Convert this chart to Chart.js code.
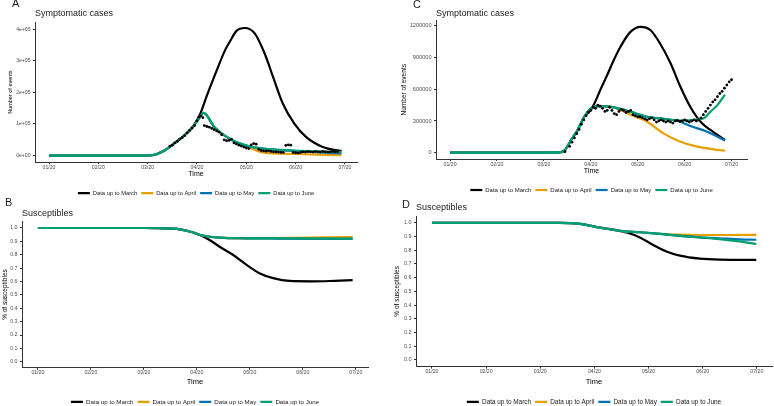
<!DOCTYPE html>
<html>
<head>
<meta charset="utf-8">
<script src="https://cdn.jsdelivr.net/npm/chart.js@4.4.1/dist/chart.umd.min.js"></script>
<style>
  body { margin: 0; background: #fff; }
  #fig { position: relative; width: 774px; height: 406px; overflow: hidden; background: #fff; }
  #fig canvas { position: absolute; }
  .tag { position: absolute; font: 11px 'Liberation Sans', Arial, sans-serif; color: #1a1a1a; }
</style>
</head>
<body>
<div id="fig">
  <canvas id="chartA" width="386" height="206" style="left:0;top:0"></canvas>
  <canvas id="chartC" width="387" height="203" style="left:387px;top:0"></canvas>
  <canvas id="chartB" width="386" height="219" style="left:0;top:196px"></canvas>
  <canvas id="chartD" width="387" height="219" style="left:387px;top:196px"></canvas>
  <div class="tag" style="left:12px;top:-3px">A</div>
  <div class="tag" style="left:5px;top:196px">B</div>
  <div class="tag" style="left:413px;top:-2px">C</div>
  <div class="tag" style="left:402px;top:198px">D</div>
</div>
<script>
// --- shared axis labels / legend ---
const monthVals = [0, 1, 2, 3, 4, 5, 6];
const monthLabels = ['01/20', '02/20', '03/20', '04/20', '05/20', '06/20', '07/20'];
const seriesNames = ['Data up to March', 'Data up to April', 'Data up to May', 'Data up to June'];
const seriesColors = ['#000000', '#E69F00', '#0072B2', '#009E73'];

// --- A: symptomatic cases (month, cases) ---
const aYTicks = [0, 100000, 200000, 300000, 400000];
const aYLabels = ['0e+00', '1e+05', '2e+05', '3e+05', '4e+05'];
const aMarch = [[0, 0], [1, 0], [1.8, 0], [2.08, 1000], [2.35, 17000], [2.55, 40000], [2.73, 62000], [2.93, 95000], [3.06, 130000], [3.2, 190000], [3.4, 270000], [3.57, 334000], [3.67, 362000], [3.8, 395000], [3.97, 404000], [4.17, 387000], [4.37, 324000], [4.54, 250000], [4.74, 165000], [4.97, 102000], [5.21, 59000], [5.55, 27000], [5.93, 14000]];
const aApril = [[0, 0], [1, 0], [1.8, 0], [2.08, 1000], [2.35, 17000], [2.55, 40000], [2.73, 62000], [2.93, 93000], [3.06, 122000], [3.13, 135000], [3.36, 89000], [3.7, 50000], [4.04, 27000], [4.3, 11000], [4.99, 5000], [5.93, 1000]];
const aMay = [[0, 0], [1, 0], [1.8, 0], [2.08, 1000], [2.35, 17000], [2.55, 40000], [2.73, 62000], [2.93, 93000], [3.06, 122000], [3.13, 135000], [3.36, 89000], [3.7, 50000], [4.04, 30000], [4.3, 23000], [4.6, 18000], [4.99, 14000], [5.5, 10000], [5.93, 7000]];
const aJune = [[0, 0], [1, 0], [1.8, 0], [2.08, 1000], [2.35, 17000], [2.55, 40000], [2.73, 62000], [2.93, 93000], [3.06, 122000], [3.13, 135000], [3.36, 89000], [3.7, 50000], [4.04, 30000], [4.3, 23000], [4.99, 16000], [5.5, 13000], [5.93, 11000]];
const aObserved = [[2.45, 30000], [2.5, 33000], [2.55, 40000], [2.6, 45000], [2.65, 52000], [2.7, 57000], [2.75, 63000], [2.8, 72000], [2.85, 80000], [2.9, 87000], [2.95, 95000], [3.0, 110000], [3.04, 122000], [3.08, 126000], [3.12, 120000], [3.15, 95000], [3.2, 92000], [3.25, 90000], [3.3, 86000], [3.35, 82000], [3.4, 78000], [3.45, 74000], [3.5, 66000], [3.55, 50000], [3.6, 47000], [3.65, 48000], [3.7, 52000], [3.75, 40000], [3.8, 37000], [3.85, 33000], [3.9, 30000], [3.95, 27000], [4.0, 24000], [4.05, 22000], [4.1, 34000], [4.15, 38000], [4.2, 36000], [4.25, 20000], [4.3, 16000], [4.35, 15000], [4.4, 14000], [4.45, 15000], [4.5, 13000], [4.55, 12000], [4.6, 12000], [4.65, 11000], [4.7, 10000], [4.75, 10000], [4.8, 32000], [4.85, 34000], [4.9, 33000], [4.95, 10000], [5.0, 9000], [5.05, 8000], [5.1, 10000], [5.15, 12000], [5.2, 11000], [5.25, 13000], [5.3, 12000], [5.35, 11000], [5.4, 13000], [5.45, 12000], [5.5, 11000], [5.55, 13000], [5.6, 12000], [5.65, 11000], [5.7, 12000], [5.75, 13000], [5.8, 12000], [5.85, 12000]];

// --- C: symptomatic cases, second setting ---
const cYTicks = [0, 300000, 600000, 900000, 1200000];
const cYLabels = ['0', '300000', '600000', '900000', '1200000'];
const cMarch = [[0, 0], [1, 0], [2, 0], [2.3, 3000], [2.44, 20000], [2.58, 120000], [2.72, 215000], [2.86, 340000], [3.0, 404000], [3.06, 450000], [3.2, 590000], [3.35, 734000], [3.49, 876000], [3.63, 1000000], [3.84, 1140000], [4.06, 1190000], [4.27, 1160000], [4.48, 1030000], [4.7, 845000], [4.91, 624000], [5.12, 435000], [5.34, 293000], [5.55, 215000], [5.86, 120000]];
const cApril = [[0, 0], [1, 0], [2, 0], [2.3, 3000], [2.44, 20000], [2.58, 120000], [2.72, 215000], [2.86, 340000], [3.0, 420000], [3.2, 441000], [3.49, 429000], [3.86, 356000], [4.2, 293000], [4.55, 183000], [4.91, 104000], [5.27, 57000], [5.62, 32000], [5.86, 19000]];
const cMay = [[0, 0], [1, 0], [2, 0], [2.3, 3000], [2.44, 20000], [2.58, 120000], [2.72, 215000], [2.86, 340000], [3.0, 420000], [3.2, 441000], [3.49, 429000], [3.84, 388000], [4.2, 340000], [4.55, 320000], [4.84, 302000], [5.12, 252000], [5.48, 199000], [5.86, 115000]];
const cJune = [[0, 0], [1, 0], [2, 0], [2.3, 3000], [2.44, 20000], [2.58, 120000], [2.72, 215000], [2.86, 340000], [3.0, 420000], [3.2, 441000], [3.49, 429000], [3.84, 388000], [4.2, 340000], [4.55, 320000], [4.91, 303000], [5.27, 315000], [5.41, 325000], [5.55, 388000], [5.7, 450000], [5.86, 550000]];
const cObserved = [[2.45, 10000], [2.55, 60000], [2.6, 100000], [2.65, 140000], [2.7, 180000], [2.75, 220000], [2.8, 270000], [2.85, 310000], [2.9, 350000], [2.95, 380000], [3.0, 400000], [3.05, 430000], [3.1, 420000], [3.15, 450000], [3.2, 440000], [3.25, 420000], [3.3, 390000], [3.35, 400000], [3.4, 430000], [3.45, 400000], [3.5, 370000], [3.55, 360000], [3.6, 390000], [3.65, 410000], [3.7, 400000], [3.75, 380000], [3.8, 390000], [3.85, 400000], [3.9, 360000], [3.95, 350000], [4.0, 340000], [4.05, 340000], [4.1, 330000], [4.15, 320000], [4.2, 310000], [4.25, 320000], [4.3, 330000], [4.35, 310000], [4.4, 290000], [4.45, 300000], [4.5, 310000], [4.55, 300000], [4.6, 290000], [4.65, 300000], [4.7, 290000], [4.75, 280000], [4.8, 300000], [4.85, 305000], [4.9, 295000], [4.95, 300000], [5.0, 310000], [5.05, 300000], [5.1, 290000], [5.15, 300000], [5.2, 310000], [5.25, 300000], [5.3, 310000], [5.35, 330000], [5.4, 360000], [5.45, 390000], [5.5, 420000], [5.55, 450000], [5.6, 480000], [5.65, 500000], [5.7, 530000], [5.75, 560000], [5.8, 580000], [5.85, 610000], [5.9, 640000], [5.95, 670000], [6.0, 690000]];

// --- B and D: share of susceptibles ---
const fracTicks = [0, 0.1, 0.2, 0.3, 0.4, 0.5, 0.6, 0.7, 0.8, 0.9, 1.0];
const fracLabels = ['0.0', '0.1', '0.2', '0.3', '0.4', '0.5', '0.6', '0.7', '0.8', '0.9', '1.0'];
const bMarch = [[0, 1], [1, 1], [2, 1], [2.3, 0.998], [2.68, 0.99], [2.9, 0.97], [3.06, 0.948], [3.24, 0.91], [3.43, 0.86], [3.68, 0.8], [3.94, 0.724], [4.19, 0.66], [4.44, 0.625], [4.75, 0.604], [5.19, 0.601], [5.6, 0.605], [5.94, 0.61]];
const bApril = [[0, 1], [1, 1], [2, 1], [2.3, 0.998], [2.68, 0.99], [2.9, 0.97], [3.06, 0.948], [3.43, 0.928], [3.94, 0.923], [4.5, 0.925], [5.94, 0.932]];
const bMay = [[0, 1], [1, 1], [2, 1], [2.3, 0.998], [2.68, 0.99], [2.9, 0.97], [3.06, 0.948], [3.43, 0.928], [3.94, 0.923], [4.5, 0.921], [5.94, 0.918]];
const bJune = [[0, 1], [1, 1], [2, 1], [2.3, 0.998], [2.68, 0.99], [2.9, 0.97], [3.06, 0.948], [3.43, 0.928], [3.94, 0.923], [4.5, 0.922], [5.94, 0.92]];
const dMarch = [[0, 1], [1, 1], [2, 1], [2.36, 1.0], [2.73, 0.993], [3.1, 0.966], [3.4, 0.948], [3.6, 0.93], [3.84, 0.894], [4.08, 0.84], [4.33, 0.792], [4.58, 0.761], [4.95, 0.739], [5.31, 0.732], [5.99, 0.73]];
const dApril = [[0, 1], [1, 1], [2, 1], [2.36, 1.0], [2.73, 0.993], [3.1, 0.966], [3.47, 0.942], [3.84, 0.932], [4.21, 0.92], [4.58, 0.914], [4.95, 0.912], [5.5, 0.912], [5.99, 0.913]];
const dMay = [[0, 1], [1, 1], [2, 1], [2.36, 1.0], [2.73, 0.993], [3.1, 0.966], [3.47, 0.942], [3.84, 0.932], [4.21, 0.92], [4.58, 0.906], [4.95, 0.895], [5.31, 0.888], [5.68, 0.88], [5.99, 0.877]];
const dJune = [[0, 1], [1, 1], [2, 1], [2.36, 1.0], [2.73, 0.993], [3.1, 0.966], [3.47, 0.942], [3.84, 0.932], [4.21, 0.92], [4.58, 0.906], [4.95, 0.894], [5.31, 0.882], [5.68, 0.865], [5.99, 0.846]];

Chart.defaults.font.family = "'Liberation Sans', Arial, sans-serif";

const toXY = pts => pts.map(p => ({ x: p[0], y: p[1] }));

function makePanel(id, p) {
    let datasets = p.series.map((s, i) => ({
        label: seriesNames[i],
        data: toXY(s),
        borderColor: seriesColors[i],
        backgroundColor: seriesColors[i],
        borderWidth: 2.2,
        pointRadius: 0,
        cubicInterpolationMode: 'monotone',
        order: 4 - i
    }));
    if (p.observed) {
        datasets.push({
            label: 'observed',
            data: toXY(p.observed),
            showLine: false,
            pointRadius: 1.4,
            pointBorderWidth: 0,
            pointBackgroundColor: '#000',
            order: 0
        });
    }

    return new Chart(document.getElementById(id), {
        type: 'line',
        data: { datasets: datasets },
        options: {
            responsive: false,
            animation: false,
            events: [],
            layout: { padding: { left: 0, right: p.padRight, top: 0, bottom: 0 } },
            scales: {
                x: {
                    type: 'linear',
                    min: p.xMin,
                    max: p.xMax,
                    afterBuildTicks: s => { s.ticks = monthVals.map(v => ({ value: v })); },
                    afterFit: s => { s.height = p.xHeight; },
                    ticks: {
                        callback: (v, i) => monthLabels[i],
                        autoSkip: false, maxRotation: 0, padding: 0,
                        color: '#4d4d4d',
                        font: { size: 5.2 }
                    },
                    grid: { drawOnChartArea: false, drawTicks: true, tickLength: 2, color: '#333' },
                    border: { display: true, color: '#333', width: 1 },
                    title: {
                        display: true, text: 'Time', color: '#000',
                        font: { size: p.timeSize },
                        padding: { top: 0, bottom: p.timePad }
                    }
                },
                y: {
                    min: p.yMin,
                    max: p.yMax,
                    afterBuildTicks: s => { s.ticks = p.yTicks.map(v => ({ value: v })); },
                    afterFit: s => { s.width = p.yWidth; },
                    ticks: {
                        callback: (v, i) => p.yLabels[i],
                        autoSkip: false, padding: 2.5,
                        color: '#4d4d4d',
                        font: { size: p.yTickSize }
                    },
                    grid: { drawOnChartArea: false, drawTicks: true, tickLength: 2, color: '#333' },
                    border: { display: true, color: '#333', width: 1 },
                    title: {
                        display: true, text: p.yTitle, color: '#000',
                        font: { size: p.yTitleSize },
                        padding: { top: p.yTitlePad, bottom: 0 }
                    }
                }
            },
            plugins: {
                title: {
                    display: true,
                    text: p.title,
                    align: 'start',
                    fullSize: false,
                    color: '#1a1a1a',
                    font: { size: 9, weight: 'normal' },
                    padding: p.titlePad
                },
                legend: {
                    position: 'bottom',
                    fullSize: false,
                    labels: {
                        boxWidth: 12,
                        boxHeight: 2.2,
                        padding: 4,
                        color: '#1a1a1a',
                        font: { size: p.legendSize },
                        generateLabels: chart => Chart.defaults.plugins.legend.labels.generateLabels(chart)
                            .filter(l => l.datasetIndex < 4)
                            .sort((a, b) => a.datasetIndex - b.datasetIndex)
                            .map(l => Object.assign(l, { lineWidth: 0 }))
                    }
                },
                tooltip: { enabled: false }
            }
        }
    });
}

makePanel('chartA', {
    series: [aMarch, aApril, aMay, aJune], observed: aObserved,
    title: 'Symptomatic cases', titlePad: { top: 8.6, bottom: 2.6 },
    xMin: -0.284, xMax: 6.244, yMin: -21000, yMax: 423000,
    yTicks: aYTicks, yLabels: aYLabels, yTickSize: 5.1,
    yTitle: 'Number of events', yTitleSize: 5.5, yTitlePad: 6.7, yWidth: 35,
    xHeight: 24, timeSize: 7, timePad: 7.8, padRight: 29, legendSize: 5.8
});

makePanel('chartC', {
    series: [cMarch, cApril, cMay, cJune], observed: cObserved,
    title: 'Symptomatic cases', titlePad: { top: 7.9, bottom: 1.8 },
    xMin: -0.3, xMax: 6.33, yMin: -59500, yMax: 1250000,
    yTicks: cYTicks, yLabels: cYLabels, yTickSize: 5.6,
    yTitle: 'Number of events', yTitleSize: 6.5, yTitlePad: 13.6, yWidth: 49,
    xHeight: 24, timeSize: 7, timePad: 7.8, padRight: 27, legendSize: 6
});

makePanel('chartB', {
    series: [bMarch, bApril, bMay, bJune],
    title: 'Susceptibles', titlePad: { top: 11.9, bottom: 2.6 },
    xMin: -0.3, xMax: 6.23, yMin: -0.045, yMax: 1.05,
    yTicks: fracTicks, yLabels: fracLabels, yTickSize: 5.2,
    yTitle: '% of susceptibles', yTitleSize: 6.5, yTitlePad: 1.1, yWidth: 22,
    xHeight: 27, timeSize: 7.5, timePad: 8.5, padRight: 18, legendSize: 6.2
});

makePanel('chartD', {
    series: [dMarch, dApril, dMay, dJune],
    title: 'Susceptibles', titlePad: { top: 6.6, bottom: 2.7 },
    xMin: -0.295, xMax: 6.28, yMin: -0.05, yMax: 1.05,
    yTicks: fracTicks, yLabels: fracLabels, yTickSize: 5.4,
    yTitle: '% of susceptibles', yTitleSize: 6.5, yTitlePad: 6.1, yWidth: 29,
    xHeight: 28, timeSize: 7.5, timePad: 8.5, padRight: 2, legendSize: 6.4
});
</script>
</body>
</html>
